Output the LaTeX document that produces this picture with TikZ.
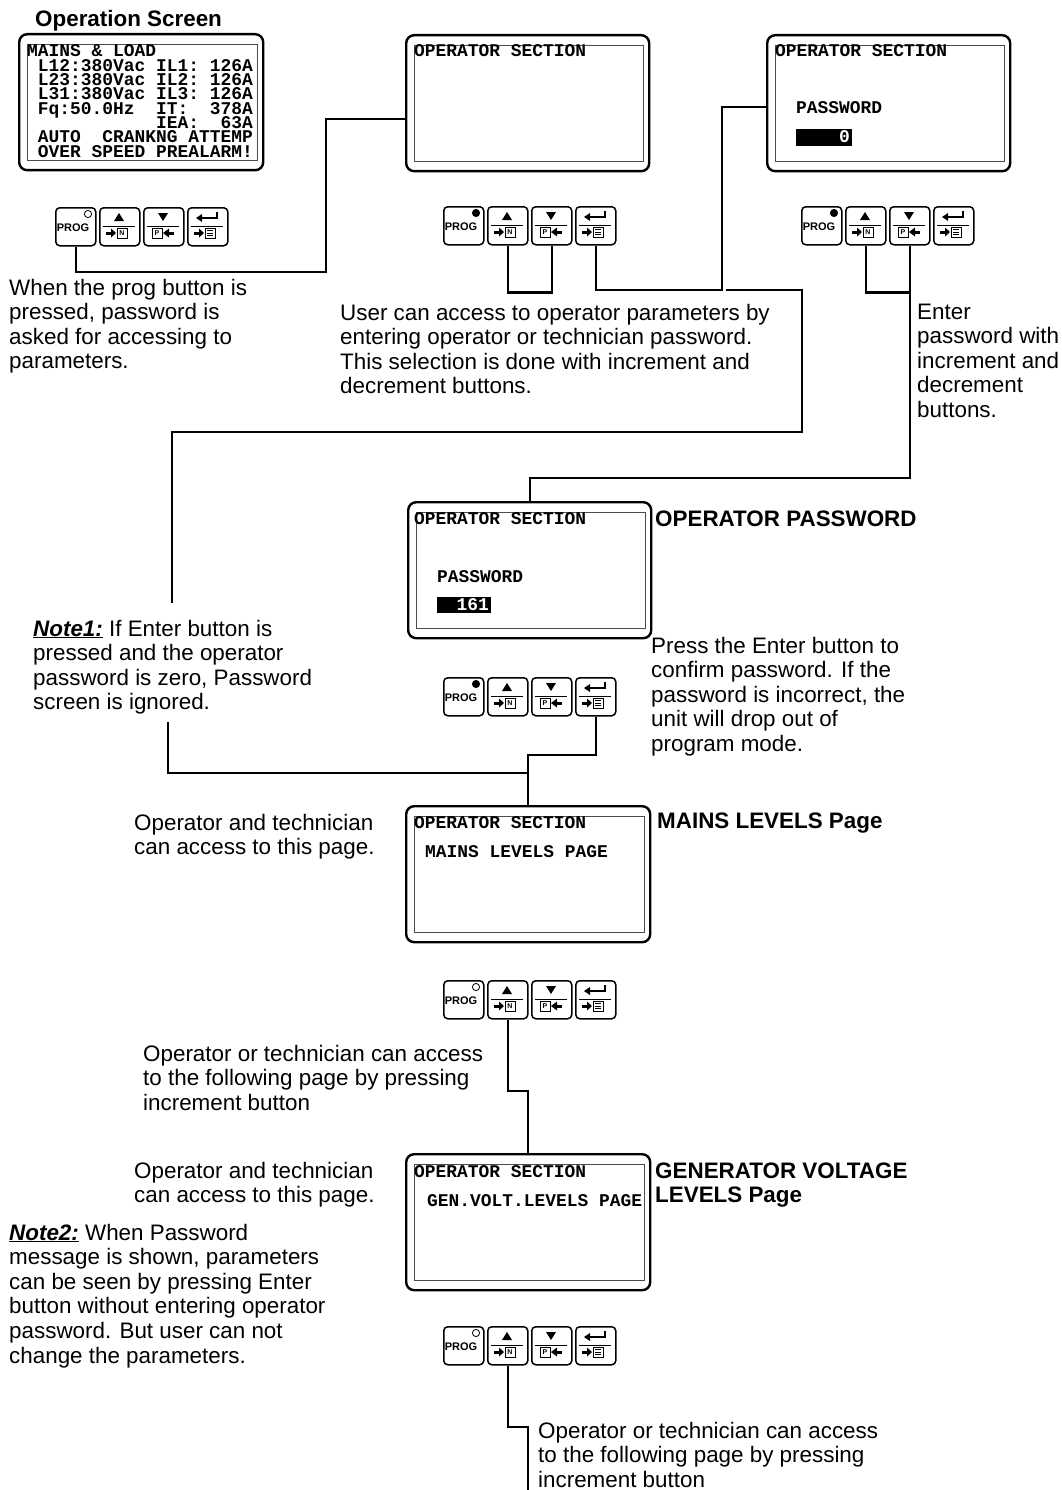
\documentclass[tikz,border=0pt]{standalone}
\usepackage{fontspec}
\setmainfont{Liberation Sans}
\newfontfamily\lcdfont{Liberation Mono}
\usetikzlibrary{calc}
\usetikzlibrary{positioning}
\setlength{\lineskiplimit}{-20pt}

% keypad: name, top-left corner, fill of the prog lamp
\newcommand{\keypad}[3]{%
  \begin{scope}[shift={(#2)}]
    \node[key] (#1-prog) at (0,0) {};
    \node[key] (#1-up) at (44,0) {};
    \node[key] (#1-down) at (88,0) {};
    \node[key] (#1-enter) at (132,0) {};
    \node[keytext] (#1-progtext) at (18,21) {PROG};
    \draw[line width=0.8pt, fill=#3] (33,7) circle (3.6pt);
    \foreach \k in {44,88,132} \draw[line width=1pt] (\k+4,19) -- (\k+36,19);
    % up
    \fill (59,14) -- (69,14) -- (64,6) -- cycle;
    \fill (51,24.5) rectangle (56,27.5);
    \fill (56,21.5) -- (61,26) -- (56,30.5) -- cycle;
    \draw[line width=0.7pt] (62,21) rectangle (72,31);
    \node[boxtext] (#1-n) at (67,26) {N};
    % down
    \fill (103,6) -- (113,6) -- (108,14) -- cycle;
    \draw[line width=0.7pt] (97,21) rectangle (107,31);
    \node[boxtext] (#1-p) at (102,26) {P};
    \fill (108,26) -- (114,21.5) -- (114,30.5) -- cycle;
    \fill (114,24.5) rectangle (119,27.5);
    % enter
    \draw[line width=2pt] (145,11) -- (162,11) -- (162,5);
    \fill (141,11) -- (147,7) -- (147,15) -- cycle;
    \fill (139,24.5) rectangle (144,27.5);
    \fill (144,21.5) -- (149,26) -- (144,30.5) -- cycle;
    \draw[line width=0.7pt] (150,21) rectangle (160,31);
    \foreach \yy in {23.5,26,28.5} \draw[line width=0.6pt] (152,\yy) -- (158,\yy);
  \end{scope}}

\begin{document}
\begin{tikzpicture}[
      x = 1pt, y = -1pt,
      font = \fontsize{22.4}{24.6}\selectfont,
      wire/.style = { line width = 2.2pt },
      screen/.style = {
        draw, line width = 2.4pt, rounded corners = 8pt,
        minimum width = 243pt, minimum height = 136pt,
        anchor = north west, inner sep = 0pt
      },
      lcd/.style = { draw = black!70, line width = 0.9pt },
      lcdtext/.style = {
        font = \lcdfont\bfseries\fontsize{17.9}{14.3}\selectfont,
        anchor = base west, inner sep = 0pt, align = left
      },
      % multi-line nodes sit on the baseline of their last line
      note/.style = { anchor = base west, inner sep = 0pt, align = left },
      heading/.style = { note, font = \fontsize{22.4}{24.6}\selectfont\bfseries },
      key/.style = {
        draw, line width = 1.5pt, rounded corners = 4pt,
        minimum width = 40pt, minimum height = 38pt,
        anchor = north west, inner sep = 0pt
      },
      keytext/.style = { font = \fontsize{11}{11}\selectfont\bfseries, inner sep = 0pt },
      boxtext/.style = { font = \fontsize{7}{7}\selectfont\bfseries, inner sep = 0pt },
    ]
    \useasboundingbox (0,0) rectangle (1061,1490);

    % screens
    \node[screen, minimum width = 244pt] (s1) at (18,33) {};
    \node[screen] (s2) at (405,34) {};
    \node[screen] (s3) at (766,34) {};
    \node[screen] (s4) at (407,501) {};
    \node[screen, minimum width = 244pt] (s5) at (405,805) {};
    \node[screen, minimum width = 244pt] (s6) at (405,1153) {};
    \foreach \s in {s1,s2,s3,s4,s5,s6}
      \draw[lcd] ($(\s.north west)+(9,11)$) rectangle ($(\s.south east)+(-7,-11)$);

    \node[heading] (title) at (35,27) {Operation Screen};
    \node[lcdtext] (s1-text) at ($(s1.north west)+(9,124.1)$)
      {MAINS~\&~LOAD\\
       ~L12:380Vac~IL1:~126A\\
       ~L23:380Vac~IL2:~126A\\
       ~L31:380Vac~IL3:~126A\\
       ~Fq:50.0Hz~~IT:~~378A\\
       ~~~~~~~~~~~~IEA:~~63A\\
       ~AUTO~~CRANKNG~ATTEMP\\
       ~OVER~SPEED~PREALARM!};

    \node[lcdtext] (s2-text) at ($(s2.north west)+(9,23)$) {OPERATOR~SECTION};
    \node[lcdtext] (s3-text) at ($(s3.north west)+(9,23)$) {OPERATOR~SECTION};
    \node[lcdtext] (s3-pass) at ($(s3.north west)+(30,80)$) {PASSWORD};
    \fill ($(s3.north west)+(30,95)$) rectangle ($(s3.north west)+(86,112)$);
    \node[lcdtext, anchor = base east, text = white] (s3-value) at ($(s3.north west)+(84,109)$) {0};
    \node[lcdtext] (s4-text) at ($(s4.north west)+(7,23)$) {OPERATOR~SECTION};
    \node[lcdtext] (s4-pass) at ($(s4.north west)+(30,81)$) {PASSWORD};
    \fill ($(s4.north west)+(30,96)$) rectangle ($(s4.north west)+(84,112)$);
    \node[lcdtext, anchor = base east, text = white] (s4-value) at ($(s4.north west)+(82,109)$) {161};
    \node[lcdtext] (s5-text) at ($(s5.north west)+(9,23)$) {OPERATOR~SECTION};
    \node[lcdtext] (s5-page) at ($(s5.north west)+(20,52)$) {MAINS~LEVELS~PAGE};
    \node[lcdtext] (s6-text) at ($(s6.north west)+(9,24)$) {OPERATOR~SECTION};
    \node[lcdtext] (s6-page) at ($(s6.north west)+(22,53)$) {GEN.VOLT.LEVELS~PAGE};

    % keypads
    \keypad{c1}{55,207}{white}
    \keypad{c2}{443,206}{black}
    \keypad{c3}{801,206}{black}
    \keypad{c4}{443,677}{black}
    \keypad{c5}{443,980}{white}
    \keypad{c6}{443,1326}{white}

    % texts
    \node[note] (t-prog) at (9,368.8)
      {When the prog button is\\pressed, password is\\asked for accessing to\\parameters.};
    \node[note] (t-user) at (340,393.8)
      {User can access to operator parameters by\\entering operator or technician password.\\This selection is done with increment and\\decrement buttons.};
    \node[note] (t-enter) at (917,417.4)
      {Enter\\password with\\increment and\\decrement\\buttons.};
    \node[heading] (h-pass) at (655,526) {OPERATOR PASSWORD};
    \node[note] (t-confirm) at (651,751.4)
      {Press the Enter button to\\confirm password. If the\\password is incorrect, the\\unit will drop out of\\program mode.};
    \node[note] (note1) at (33,709.8)
      {\textbf{\textit{\underline{Note1:}}} If Enter button is\\pressed and the operator\\password is zero, Password\\screen is ignored.};
    \node[note] (t-access1) at (134,854.6)
      {Operator and technician\\can access to this page.};
    \node[heading] (h-mains) at (657,828) {MAINS LEVELS Page};
    \node[note] (t-next1) at (143,1110.2)
      {Operator or technician can access\\to the following page by pressing\\increment button};
    \node[note] (t-access2) at (134,1202.6)
      {Operator and technician\\can access to this page.};
    \node[heading] (h-gen) at (655,1202.6) {GENERATOR VOLTAGE\\LEVELS Page};
    \node[note] (note2) at (9,1363)
      {\textbf{\textit{\underline{Note2:}}} When Password\\message is shown, parameters\\can be seen by pressing Enter\\button without entering operator\\password. But user can not\\change the parameters.};
    \node[note] (t-next2) at (538,1487.2)
      {Operator or technician can access\\to the following page by pressing\\increment button};

    % connectors
    \coordinate (b1) at (326,272);
    \coordinate (b2) at (722,290);
    \coordinate (b3) at (726,290);
    \coordinate (b4) at (802,432);
    \coordinate (note1-in) at (172,603);
    \coordinate (note1-out) at (168,722);
    \coordinate (next) at (528,1490);

    \draw[wire] (c1-prog.south) |- (b1) |- ($(s2.west)+(0,16)$);
    \draw[wire] (c2-up.south) -- ++(0,47) -| (c2-down.south);
    \draw[wire] (c2-enter.south) |- (b2) |- ($(s3.west)+(0,4)$);
    \draw[wire] (b3) -| (b4) -| (note1-in);
    \draw[wire] (c3-up.south) -- ++(0,47) -| (c3-down.south);
    \draw[wire] (c3-down.south) |- ($(s4.north)+(0,-23)$) -- (s4.north);
    \draw[wire] (c4-enter.south) |- ($(s5.north)+(0,-50)$) -- (s5.north);
    \draw[wire] (note1-out) |- ($(s5.north)+(0,-32)$);
    \draw[wire] (c5-up.south) |- ($(s6.north)+(0,-62)$) -- (s6.north);
    \draw[wire] (c6-up.south) |- ($(next)+(0,-63)$) -- (next);
  \end{tikzpicture}
\end{document}
